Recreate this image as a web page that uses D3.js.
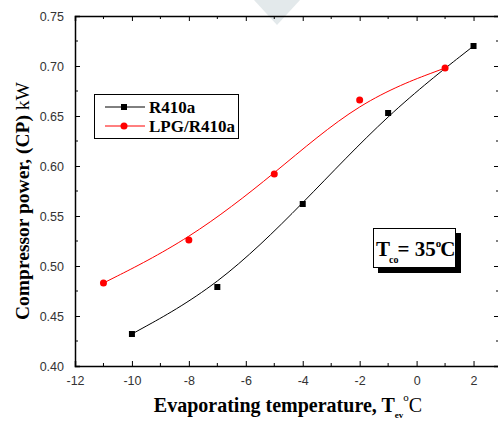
<!DOCTYPE html>
<html>
<head>
<meta charset="utf-8">
<script src="https://cdn.jsdelivr.net/npm/d3@7"></script>
<style>
  body { margin: 0; background: #fff; }
  svg { display: block; }
  .tick text { font-family: "Liberation Sans", Arial, sans-serif; font-size: 12.5px; fill: #333; }
  .serif { font-family: "Liberation Serif", "Times New Roman", serif; }
</style>
</head>
<body>
<svg id="chart" width="498" height="423"></svg>
<script>
// waarden
const r410a_t = [-10, -7, -4, -1, 2];
const r410a_cp = [0.432, 0.479, 0.562, 0.653, 0.720];
const lpg_t = [-11, -8, -5, -2, 1];
const lpg_cp = [0.483, 0.526, 0.592, 0.666, 0.698];
const xticks = [-12, -10, -8, -6, -4, -2, 0, 2];
const yticks = [0.40, 0.45, 0.50, 0.55, 0.60, 0.65, 0.70, 0.75];

const svg = d3.select('svg#chart');

const m = { left: 75, right: 502, top: 16, bottom: 366 };

const x = d3.scaleLinear().domain([-12, 3]).range([m.left, m.right]);
const y = d3.scaleLinear().domain([0.40, 0.75]).range([m.bottom, m.top]);

// watermerk bovenaan
svg.append('path')
    .attr('d', 'M254,0 L300,0 L277,25 Z')
    .attr('fill', '#e3e9eb');

// assen: ticks naar binnen
const axes = svg.append('g');

axes.append('g')
    .attr('transform', 'translate(0,' + m.bottom + ')')
    .call(d3.axisBottom(x).tickValues(xticks).tickSize(-5).tickPadding(10).tickFormat(d => String(d)));
axes.append('g')
    .attr('transform', 'translate(0,' + m.top + ')')
    .call(d3.axisTop(x).tickValues(xticks).tickSize(-5).tickFormat(''));
axes.append('g')
    .attr('transform', 'translate(' + m.left + ',0)')
    .call(d3.axisLeft(y).tickValues(yticks).tickSize(-5).tickPadding(11).tickFormat(d3.format('.2f')));
axes.append('g')
    .attr('transform', 'translate(' + (m.right - 3) + ',0)')
    .call(d3.axisRight(y).tickValues(yticks).tickSize(-5).tickFormat(''));

// kleine ticks
const xminor = d3.range(-11, 3, 2);
const yminor = d3.range(0.425, 0.75, 0.05);
axes.selectAll('line.xm').data(xminor).enter().append('line')
    .attr('x1', d => x(d)).attr('x2', d => x(d))
    .attr('y1', m.bottom).attr('y2', m.bottom - 3).attr('stroke', '#000');
axes.selectAll('line.xmt').data(xminor).enter().append('line')
    .attr('x1', d => x(d)).attr('x2', d => x(d))
    .attr('y1', m.top).attr('y2', m.top + 3).attr('stroke', '#000');
axes.selectAll('line.ym').data(yminor).enter().append('line')
    .attr('x1', m.left).attr('x2', m.left + 3)
    .attr('y1', d => y(d)).attr('y2', d => y(d)).attr('stroke', '#000');
axes.selectAll('line.ymr').data(yminor).enter().append('line')
    .attr('x1', m.right - 3).attr('x2', m.right - 6)
    .attr('y1', d => y(d)).attr('y2', d => y(d)).attr('stroke', '#000');

axes.selectAll('.domain').attr('stroke', '#000').attr('stroke-width', 1.5);
axes.selectAll('.tick line').attr('stroke', '#000');

// curves
const line = d3.line().x(d => x(d[0])).y(d => y(d[1])).curve(d3.curveBasis);
const r410a = r410a_t.map((t, i) => [t, r410a_cp[i]]);
const lpg = lpg_t.map((t, i) => [t, lpg_cp[i]]);

svg.append('path').datum(r410a).attr('d', line)
    .attr('fill', 'none').attr('stroke', '#000').attr('stroke-width', 1);
svg.append('path').datum(lpg).attr('d', line)
    .attr('fill', 'none').attr('stroke', '#ff0000').attr('stroke-width', 1);

svg.selectAll('rect.sq').data(r410a).enter().append('rect')
    .attr('x', d => x(d[0]) - 3).attr('y', d => y(d[1]) - 3)
    .attr('width', 6).attr('height', 6).attr('fill', '#000');
svg.selectAll('circle.dot').data(lpg).enter().append('circle')
    .attr('cx', d => x(d[0])).attr('cy', d => y(d[1]))
    .attr('r', 3.5).attr('fill', '#ff0000');

// legenda
const legend = svg.append('g');
legend.append('rect')
    .attr('x', 94.5).attr('y', 94.5).attr('width', 144).attr('height', 44)
    .attr('fill', '#fff').attr('stroke', '#000').attr('stroke-width', 1);
const items = [
    { label: 'R410a', color: '#000', shape: 'sq', yy: 107 },
    { label: 'LPG/R410a', color: '#ff0000', shape: 'ci', yy: 126 },
];
items.forEach(it => {
    legend.append('line')
        .attr('x1', 105).attr('x2', 145).attr('y1', it.yy).attr('y2', it.yy)
        .attr('stroke', it.color);
    if (it.shape == 'sq') {
        legend.append('rect').attr('x', 121).attr('y', it.yy - 3)
            .attr('width', 6).attr('height', 6).attr('fill', it.color);
    } else {
        legend.append('circle').attr('cx', 124).attr('cy', it.yy)
            .attr('r', 3.5).attr('fill', it.color);
    }
    legend.append('text').classed('serif', true)
        .attr('x', 149).attr('y', it.yy + 6)
        .attr('font-size', 17).attr('font-weight', 'bold')
        .text(it.label);
});

// T_co kader
const tbox = svg.append('g');
tbox.append('rect').attr('x', 378).attr('y', 233).attr('width', 83).attr('height', 40).attr('fill', '#000');
tbox.append('rect').attr('x', 373.5).attr('y', 228.5).attr('width', 82).attr('height', 39)
    .attr('fill', '#fff').attr('stroke', '#000').attr('stroke-width', 1);
const tt = tbox.append('text').classed('serif', true)
    .attr('x', 376).attr('y', 256).attr('font-weight', 'bold').attr('font-size', 21);
tt.append('tspan').text('T');
tt.append('tspan').attr('font-size', 10).attr('dx', -1).attr('dy', 7).text('co');
tt.append('tspan').attr('dx', -1).attr('dy', -7).text('= 35');
tt.append('tspan').attr('font-size', 11).attr('dy', -9).text('o');
tt.append('tspan').attr('dy', 9).attr('dx', -1).text('C');

// astitels
const xt = svg.append('text').classed('serif', true)
    .attr('x', 288).attr('y', 412).attr('text-anchor', 'middle').attr('font-size', 20);
xt.append('tspan').attr('font-weight', 'bold').text('Evaporating temperature, T');
xt.append('tspan').attr('font-weight', 'bold').attr('font-size', 9).attr('dy', 6).text('ev');
xt.append('tspan').attr('font-size', 11).attr('dy', -17).text('o');
xt.append('tspan').attr('dy', 11).text('C');

const yt = svg.append('text').classed('serif', true)
    .attr('transform', 'translate(29,201) rotate(-90)')
    .attr('text-anchor', 'middle').attr('font-size', 19.5);
yt.append('tspan').attr('font-weight', 'bold').text('Compressor power, (CP) ');
yt.append('tspan').text('kW');
</script>
</body>
</html>
